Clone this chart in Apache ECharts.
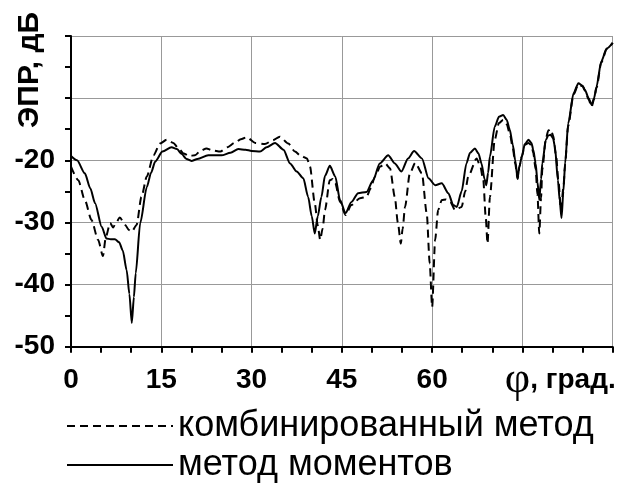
<!DOCTYPE html>
<html>
<head>
<meta charset="utf-8">
<script src="https://cdn.jsdelivr.net/npm/echarts@6/dist/echarts.min.js"></script>
<style>html,body{margin:0;padding:0;background:#fff}#chart{width:624px;height:485px}</style>
</head>
<body>
<div id="chart"></div>
<script>
// комбинированный метод (dashed)
var combAngles = [0,1.2,2.3,3.4,4.5,5.3,5.8,6.5,7.0,7.5,8.1,9.0,9.6,10.1,10.9,11.7,12.6,13.7,14.8,15.9,17.0,17.8,18.7,19.6,20.6,21.5,22.5,23.5,24.8,26.0,27.2,28.2,29.2,30.6,32.2,33.5,34.7,36.1,37.2,38.2,39.2,39.7,40.5,41.0,41.4,41.8,42.2,43.0,43.5,43.9,44.7,45.6,46.6,48.0,49.1,49.8,50.5,51.4,52.2,53.0,53.8,54.3,54.8,55.1,55.5,56.3,57.2,58.3,59.1,59.6,60.0,60.5,61.0,61.6,62.3,63.0,63.8,64.9,65.5,66.0,67.4,68.0,68.5,68.9,69.2,69.6,70.4,71.1,71.8,72.4,72.9,73.4,73.8,74.2,74.5,74.9,75.4,76.0,76.5,76.8,77.2,77.5,77.8,78.1,78.3,78.9,79.3,79.7,80.1,80.6,81.0,81.4,81.8,82.1,82.6,83.5,84.3,85.0,85.4,86.0,86.5,86.9,87.3,88.1,89.0,90.0];
var combValues = [-21.0,-23.2,-26.4,-29.6,-32.8,-35.4,-32.3,-30.1,-30.8,-30.0,-29.2,-30.4,-31.2,-31.5,-30.4,-25.9,-22.6,-19.2,-17.3,-16.7,-17.2,-18.0,-18.9,-19.3,-19.2,-18.5,-18.1,-18.4,-18.6,-17.9,-17.2,-16.6,-16.3,-17.2,-17.4,-16.8,-16.2,-17.3,-18.6,-19.3,-19.7,-21.0,-26.9,-30.5,-32.8,-31.0,-28.0,-23.2,-23.0,-23.7,-26.7,-28.8,-27.2,-26.1,-25.9,-24.5,-22.6,-21.0,-20.5,-21.3,-25.9,-30.0,-33.4,-31.0,-27.5,-22.1,-20.4,-22.1,-28.5,-36.6,-43.6,-32.8,-28.0,-26.4,-26.3,-26.7,-28.0,-27.5,-25.0,-22.6,-19.7,-21.0,-23.2,-29.1,-33.4,-25.9,-16.7,-14.0,-13.5,-14.2,-15.7,-18.0,-20.5,-23.0,-21.0,-19.4,-17.5,-17.2,-17.6,-18.8,-21.5,-25.5,-31.8,-26.0,-21.5,-16.5,-15.2,-15.0,-16.0,-19.4,-23.5,-28.0,-24.5,-20.5,-14.5,-9.4,-7.8,-8.1,-8.8,-10.2,-11.4,-10.2,-8.4,-4.3,-2.1,-1.1];
// метод моментов (solid)
var momAngles = [0,1.0,2.3,3.2,4.0,5.1,5.9,6.6,7.3,8.0,8.6,9.25,9.7,10.1,10.45,10.75,11.5,12.6,13.3,14.0,15.2,16.7,17.6,18.4,19.2,20.0,21.0,22.8,25.0,26.5,27.8,29.0,30.0,31.4,32.5,33.9,35.3,36.4,37.5,38.6,39.4,40.0,40.5,41.0,41.6,42.2,43.0,43.9,44.7,45.6,46.6,47.7,49.1,50.2,51.3,52.7,53.8,54.9,56.0,57.0,58.3,59.4,60.5,61.6,62.7,63.5,64.1,64.9,65.7,66.3,67.1,67.7,68.2,68.7,69.0,69.3,69.6,70.4,71.1,71.8,72.4,72.9,73.4,73.8,74.2,74.5,74.9,75.4,76.0,76.5,76.8,77.2,77.5,77.8,78.1,78.3,78.9,79.3,79.7,80.1,80.4,80.9,81.2,81.5,81.8,82.1,82.6,83.5,84.3,85.0,85.4,86.0,86.5,86.9,87.3,88.1,89.0,90.0];
var momValues = [-19.3,-20.0,-22.1,-24.5,-26.9,-30.7,-32.6,-32.7,-32.7,-33.2,-34.5,-37.7,-41.5,-46.2,-42.0,-38.2,-30.1,-24.3,-22.0,-20.2,-18.6,-17.9,-18.2,-19.0,-19.8,-20.1,-19.8,-19.2,-19.2,-18.8,-18.2,-18.3,-18.5,-18.6,-17.9,-17.2,-18.3,-20.5,-21.8,-22.9,-25.9,-29.0,-31.8,-29.0,-25.9,-22.5,-20.9,-22.6,-26.4,-28.5,-26.7,-25.3,-25.1,-23.2,-20.5,-19.2,-20.5,-21.8,-19.7,-18.5,-19.7,-22.9,-24.0,-23.7,-25.3,-27.2,-27.5,-25.0,-20.5,-18.8,-18.1,-18.9,-20.5,-23.0,-24.0,-22.0,-19.4,-14.6,-13.0,-12.7,-13.5,-15.1,-17.5,-20.0,-22.9,-21.0,-19.4,-17.4,-16.7,-17.2,-18.3,-20.5,-23.5,-26.4,-23.0,-20.5,-16.7,-16.0,-15.9,-16.5,-17.8,-23.2,-26.5,-29.3,-25.0,-20.5,-14.1,-9.2,-7.6,-8.0,-8.7,-10.0,-11.1,-10.0,-8.2,-4.1,-2.0,-1.1];
var seriesNames = ['комбинированный метод', 'метод моментов'];
var xLabelMaxShown = 60;
var yLabelMaxShown = -20;

function pairs(a, v) { return a.map(function (x, i) { return [x, v[i]]; }); }

var chart = echarts.init(document.getElementById('chart'));
var tickStyle = { color: '#000', width: 2 };
var labelFont = { fontFamily: 'Liberation Sans', fontWeight: 'bold', fontSize: 28, color: '#000' };
chart.setOption({
  animation: false,
  backgroundColor: '#fff',
  grid: { left: 71, right: 11.3, top: 36, bottom: 138.3, containLabel: false },
  xAxis: {
    type: 'value', min: 0, max: 90, interval: 15,
    name: '{phi|φ}{t|, град.}',
    nameLocation: 'end', nameGap: 3,
    nameTextStyle: {
      align: 'right', verticalAlign: 'top', padding: [12, 0, 0, 0],
      rich: {
        phi: { fontFamily: 'Liberation Serif', fontSize: 44, color: '#000' },
        t: { fontFamily: 'Liberation Sans', fontWeight: 'bold', fontSize: 28, color: '#000' }
      }
    },
    axisLine: { onZero: false, lineStyle: { color: '#000', width: 2 } },
    axisTick: { length: 6, lineStyle: tickStyle },
    minorTick: { show: true, splitNumber: 3, length: 6, lineStyle: tickStyle },
    splitLine: { show: true, lineStyle: { color: '#999', width: 1 } },
    axisLabel: Object.assign({ margin: 20, formatter: function (v) { return v <= xLabelMaxShown ? String(v) : ''; } }, labelFont)
  },
  yAxis: {
    type: 'value', min: -50, max: 0, interval: 10,
    axisLine: { show: true, onZero: false, lineStyle: { color: '#000', width: 2 } },
    axisTick: { show: true, length: 6, lineStyle: tickStyle },
    minorTick: { show: true, splitNumber: 2, length: 6, lineStyle: tickStyle },
    splitLine: { show: true, lineStyle: { color: '#999', width: 1 } },
    axisLabel: Object.assign({ margin: 16, formatter: function (v) { return v <= yLabelMaxShown ? String(v) : ''; } }, labelFont)
  },
  legend: {
    data: seriesNames,
    orient: 'vertical', left: 66, top: 408, padding: 0,
    itemWidth: 106, itemHeight: 20, itemGap: 3,
    lineStyle: { width: 2 },
    itemStyle: { opacity: 0 },
    textStyle: { fontFamily: 'Liberation Sans', fontSize: 36, lineHeight: 36, color: '#000' }
  },
  graphic: [{
    type: 'text', x: 30, y: 70, rotation: Math.PI / 2,
    style: { text: 'ЭПР, дБ', fontFamily: 'Liberation Sans', fontWeight: 'bold', fontSize: 30, fill: '#000', align: 'center', verticalAlign: 'middle' }
  }],
  series: [{
    name: seriesNames[0], type: 'line', data: pairs(combAngles, combValues),
    symbol: 'none', smooth: 0.25, smoothMonotone: 'x',
    lineStyle: { color: '#000', width: 2, type: [8, 5] }, itemStyle: { color: '#000' }
  }, {
    name: seriesNames[1], type: 'line', data: pairs(momAngles, momValues),
    symbol: 'none', smooth: 0.25, smoothMonotone: 'x',
    lineStyle: { color: '#000', width: 2, type: 'solid' }, itemStyle: { color: '#000' }
  }]
});
</script>
</body>
</html>
